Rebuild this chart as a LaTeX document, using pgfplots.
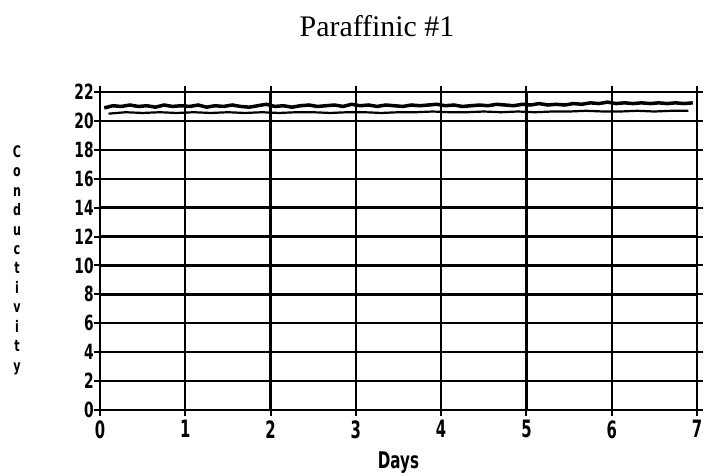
\documentclass[border=0pt]{standalone}
\usepackage{fontspec}
\setmainfont{Liberation Serif}
\newfontfamily\plotfont{DejaVu Sans}
\usepackage{pgfplots}
\pgfplotsset{compat=1.18}

\begin{document}
\begin{tikzpicture}
\begin{axis}[
    scale only axis,
    width=597bp, height=318bp,
    xmin=0, xmax=7, ymin=0, ymax=22,
    xtick={0,...,7}, ytick={0,2,...,22},
    grid=major,
    major grid style={line width=2.4bp, black},
    axis line style={line width=2.4bp, black},
    tick align=outside,
    major tick length=6bp,
    tick style={line width=2bp, black},
    /pgf/number format/assume math mode=true,
    x tick label style={font=\plotfont\bfseries\fontsize{24}{24}\selectfont, xscale=0.62, yshift=-1bp},
    y tick label style={font=\plotfont\bfseries\fontsize{21}{21}\selectfont, xscale=0.66, xshift=3bp},
    title={Paraffinic \#1},
    title style={font=\fontsize{30}{30}\selectfont, at={(0.464,1)}, anchor=base, yshift=50bp},
    xlabel={Days},
    xlabel style={font=\plotfont\bfseries\fontsize{23}{23}\selectfont, xscale=0.66, yshift=-6bp},
    ylabel={C\\o\\n\\d\\u\\c\\t\\i\\v\\i\\t\\y},
    every axis y label/.style={at={(rel axis cs:0,0.5)}, anchor=center, xshift=-83bp, yshift=-9bp,
        align=center, font=\plotfont\bfseries\fontsize{16}{19.5}\selectfont, xscale=0.7},
    clip=false,
]
\addplot[black, line width=3.5bp, no marks] coordinates {
(0.05,20.9)(0.15,21.05)(0.25,21.0)(0.35,21.1)(0.45,21.0)(0.55,21.05)(0.65,20.95)(0.75,21.1)(0.85,21.0)(0.95,21.05)
(1.05,21.0)(1.15,21.1)(1.25,20.95)(1.35,21.05)(1.45,21.0)(1.55,21.1)(1.65,21.0)(1.75,20.95)(1.85,21.05)(1.95,21.15)
(2.05,21.0)(2.15,21.05)(2.25,20.95)(2.35,21.05)(2.45,21.1)(2.55,21.0)(2.65,21.05)(2.75,21.1)(2.85,21.0)(2.95,21.15)
(3.05,21.05)(3.15,21.1)(3.25,21.0)(3.35,21.1)(3.45,21.05)(3.55,21.0)(3.65,21.1)(3.75,21.05)(3.85,21.1)(3.95,21.15)
(4.05,21.05)(4.15,21.1)(4.25,21.0)(4.35,21.05)(4.45,21.1)(4.55,21.05)(4.65,21.15)(4.75,21.1)(4.85,21.05)(4.95,21.15)
(5.05,21.1)(5.15,21.2)(5.25,21.1)(5.35,21.15)(5.45,21.1)(5.55,21.2)(5.65,21.15)(5.75,21.25)(5.85,21.2)(5.95,21.3)
(6.05,21.2)(6.15,21.25)(6.25,21.2)(6.35,21.25)(6.45,21.2)(6.55,21.25)(6.65,21.2)(6.75,21.25)(6.85,21.2)(6.95,21.25)
};
\addplot[black, line width=2.2bp, no marks] coordinates {
(0.1,20.5)(0.3,20.6)(0.5,20.55)(0.7,20.6)(0.9,20.55)(1.1,20.6)(1.3,20.55)(1.5,20.6)(1.7,20.55)(1.9,20.6)
(2.1,20.55)(2.3,20.6)(2.5,20.6)(2.7,20.55)(2.9,20.6)(3.1,20.6)(3.3,20.55)(3.5,20.6)(3.7,20.6)(3.9,20.65)
(4.1,20.6)(4.3,20.6)(4.5,20.65)(4.7,20.6)(4.9,20.65)(5.1,20.6)(5.3,20.65)(5.5,20.65)(5.7,20.7)(5.9,20.65)
(6.1,20.65)(6.3,20.7)(6.5,20.65)(6.7,20.7)(6.9,20.7)
};
\coordinate (o) at (rel axis cs:0,0);
\end{axis}
\pgfresetboundingbox
\useasboundingbox (o) ++(-100bp,-66bp) rectangle ++(706bp,476bp);
\end{tikzpicture}
\end{document}
